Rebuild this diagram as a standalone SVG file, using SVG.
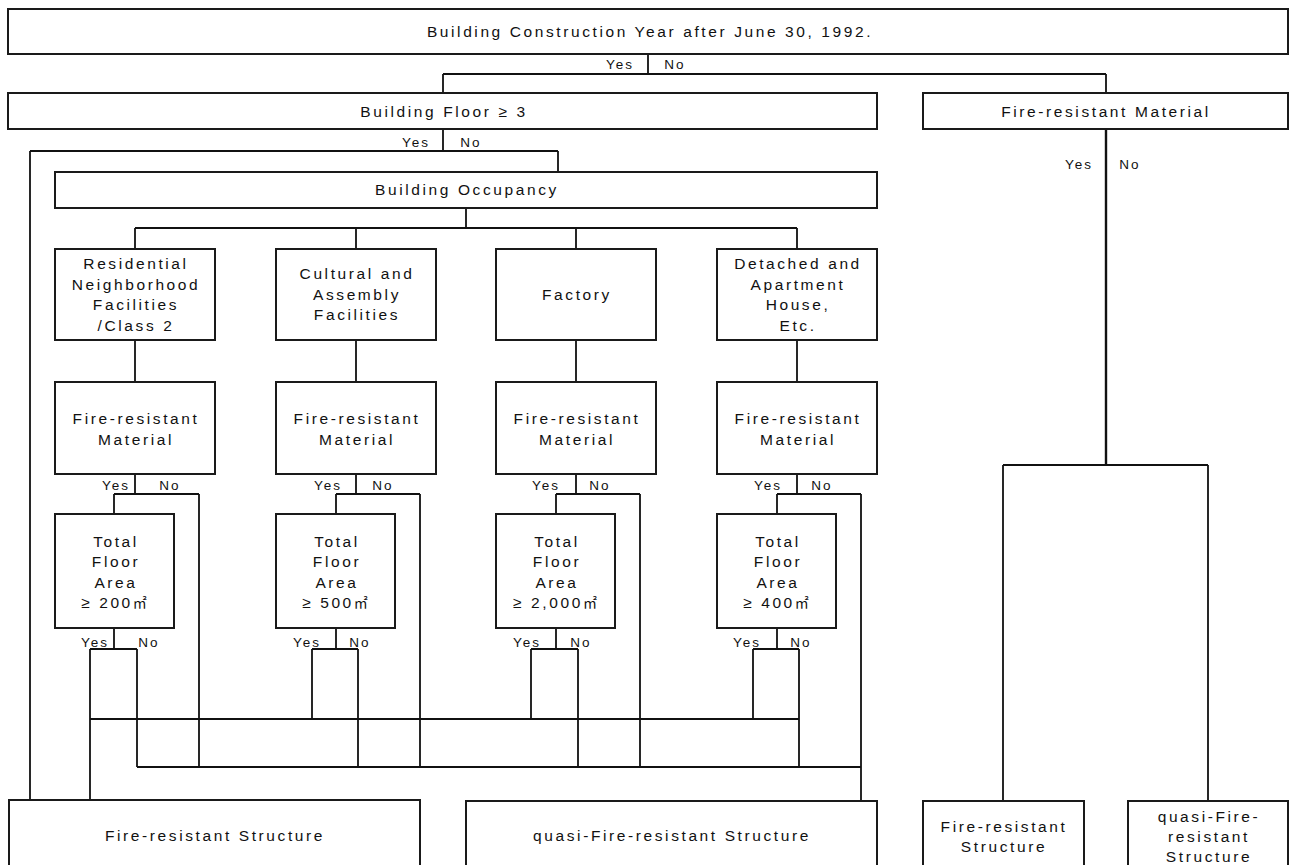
<svg xmlns="http://www.w3.org/2000/svg" width="1295" height="865" viewBox="0 0 1295 865">
<style>
.box{fill:#fff;stroke:#1a1a1a;stroke-width:2}
.ln{fill:none;stroke:#111;stroke-width:1.8}
.t{font-family:"Liberation Sans","Noto Sans CJK KR",Arial,sans-serif;font-size:15.5px;letter-spacing:2.6px;fill:#111;text-anchor:middle}
.yn{font-family:"Liberation Sans",Arial,sans-serif;font-size:13.5px;letter-spacing:2px;fill:#111;text-anchor:middle}
.m2{font-family:"Noto Sans CJK KR",sans-serif;font-size:14px;letter-spacing:0}
</style>
<rect width="1295" height="865" fill="#fff"/>

<g id="connectors">
  <path class="ln" d="M648,54V74M443,74H1106M443,74V93M1106,74V93"/>
  <path class="ln" d="M443,129V151M30,151H558M30,151V800M558,151V172"/>
  <path class="ln" d="M466,208V228M135,228H797M135,228V249M356,228V249M576,228V249M797,228V249"/>
  <path class="ln" d="M135,340V382M356,340V382M576,340V382M797,340V382"/>
  <path class="ln" d="M135,474V494M114,494H199M114,494V514M199,494V767"/>
  <path class="ln" d="M356,474V494M336,494H420M336,494V514M420,494V767"/>
  <path class="ln" d="M576,474V494M556,494H640M556,494V514M640,494V767"/>
  <path class="ln" d="M797,474V494M777,494H861M777,494V514M861,494V800"/>
  <path class="ln" d="M114,628V649M90,649H137M90,649V800M137,649V767"/>
  <path class="ln" d="M336,628V649M312,649H358M312,649V719M358,649V767"/>
  <path class="ln" d="M556,628V649M531,649H578M531,649V719M578,649V767"/>
  <path class="ln" d="M777,628V649M753,649H799M753,649V719M799,649V767"/>
  <path class="ln" d="M90,719H799M137,767H861"/>
  <path class="ln" d="M1106,129V465" style="stroke-width:2.4"/>
  <path class="ln" d="M1003,465H1208M1003,465V801M1208,465V801"/>
  <g class="yn">
    <text x="620" y="69">Yes</text><text x="675" y="69">No</text>
    <text x="416" y="147">Yes</text><text x="471" y="147">No</text>
    <text x="1079" y="169">Yes</text><text x="1130" y="169">No</text>
    <text x="116" y="490">Yes</text><text x="170" y="490">No</text>
    <text x="328" y="490">Yes</text><text x="383" y="490">No</text>
    <text x="546" y="490">Yes</text><text x="600" y="490">No</text>
    <text x="768" y="490">Yes</text><text x="822" y="490">No</text>
    <text x="95" y="647">Yes</text><text x="149" y="647">No</text>
    <text x="307" y="647">Yes</text><text x="360" y="647">No</text>
    <text x="527" y="647">Yes</text><text x="581" y="647">No</text>
    <text x="747" y="647">Yes</text><text x="801" y="647">No</text>
  </g>
</g>

<g id="n-year"><rect class="box" x="8" y="9" width="1280" height="45"/><text class="t" x="650" y="37">Building Construction Year after June 30, 1992.</text></g>
<g id="n-floor"><rect class="box" x="8" y="93" width="869" height="36"/><text class="t" x="444" y="117">Building Floor ≥  3</text></g>
<g id="n-frm-right"><rect class="box" x="923" y="93" width="365" height="36"/><text class="t" x="1106" y="117">Fire-resistant Material</text></g>
<g id="n-occupancy"><rect class="box" x="55" y="172" width="822" height="36"/><text class="t" x="467" y="195">Building Occupancy</text></g>

<g id="n-residential"><rect class="box" x="55" y="249" width="160" height="91"/>
  <text class="t" x="136" y="269">Residential</text><text class="t" x="136" y="290">Neighborhood</text><text class="t" x="136" y="310">Facilities</text><text class="t" x="136" y="331">/Class 2</text></g>
<g id="n-cultural"><rect class="box" x="276" y="249" width="160" height="91"/>
  <text class="t" x="357" y="279">Cultural and</text><text class="t" x="357" y="300">Assembly</text><text class="t" x="357" y="320">Facilities</text></g>
<g id="n-factory"><rect class="box" x="496" y="249" width="160" height="91"/>
  <text class="t" x="577" y="300">Factory</text></g>
<g id="n-detached"><rect class="box" x="717" y="249" width="160" height="91"/>
  <text class="t" x="798" y="269">Detached and</text><text class="t" x="798" y="290">Apartment</text><text class="t" x="798" y="310">House,</text><text class="t" x="798" y="331">Etc.</text></g>

<g id="n-frm1"><rect class="box" x="55" y="382" width="160" height="92"/><text class="t" x="136" y="424">Fire-resistant</text><text class="t" x="136" y="445">Material</text></g>
<g id="n-frm2"><rect class="box" x="276" y="382" width="160" height="92"/><text class="t" x="357" y="424">Fire-resistant</text><text class="t" x="357" y="445">Material</text></g>
<g id="n-frm3"><rect class="box" x="496" y="382" width="160" height="92"/><text class="t" x="577" y="424">Fire-resistant</text><text class="t" x="577" y="445">Material</text></g>
<g id="n-frm4"><rect class="box" x="717" y="382" width="160" height="92"/><text class="t" x="798" y="424">Fire-resistant</text><text class="t" x="798" y="445">Material</text></g>

<g id="n-tfa1"><rect class="box" x="55" y="514" width="119" height="114"/>
  <text class="t" x="116" y="547">Total</text><text class="t" x="116" y="567">Floor</text><text class="t" x="116" y="588">Area</text><text class="t" x="114" y="608">≥  200<tspan class="m2">㎡</tspan></text></g>
<g id="n-tfa2"><rect class="box" x="276" y="514" width="119" height="114"/>
  <text class="t" x="337" y="547">Total</text><text class="t" x="337" y="567">Floor</text><text class="t" x="337" y="588">Area</text><text class="t" x="335" y="608">≥  500<tspan class="m2">㎡</tspan></text></g>
<g id="n-tfa3"><rect class="box" x="496" y="514" width="119" height="114"/>
  <text class="t" x="557" y="547">Total</text><text class="t" x="557" y="567">Floor</text><text class="t" x="557" y="588">Area</text><text class="t" x="555" y="608">≥  2,000<tspan class="m2">㎡</tspan></text></g>
<g id="n-tfa4"><rect class="box" x="717" y="514" width="119" height="114"/>
  <text class="t" x="778" y="547">Total</text><text class="t" x="778" y="567">Floor</text><text class="t" x="778" y="588">Area</text><text class="t" x="776" y="608">≥  400<tspan class="m2">㎡</tspan></text></g>

<g id="n-frs"><rect class="box" x="9" y="800" width="411" height="80"/><text class="t" x="215" y="841">Fire-resistant Structure</text></g>
<g id="n-qfrs"><rect class="box" x="466" y="801" width="411" height="80"/><text class="t" x="672" y="841">quasi-Fire-resistant Structure</text></g>
<g id="n-frs-right"><rect class="box" x="923" y="801" width="161" height="80"/><text class="t" x="1004" y="832">Fire-resistant</text><text class="t" x="1004" y="852">Structure</text></g>
<g id="n-qfrs-right"><rect class="box" x="1128" y="801" width="160" height="80"/><text class="t" x="1209" y="822">quasi-Fire-</text><text class="t" x="1209" y="842">resistant</text><text class="t" x="1209" y="862">Structure</text></g>
</svg>
